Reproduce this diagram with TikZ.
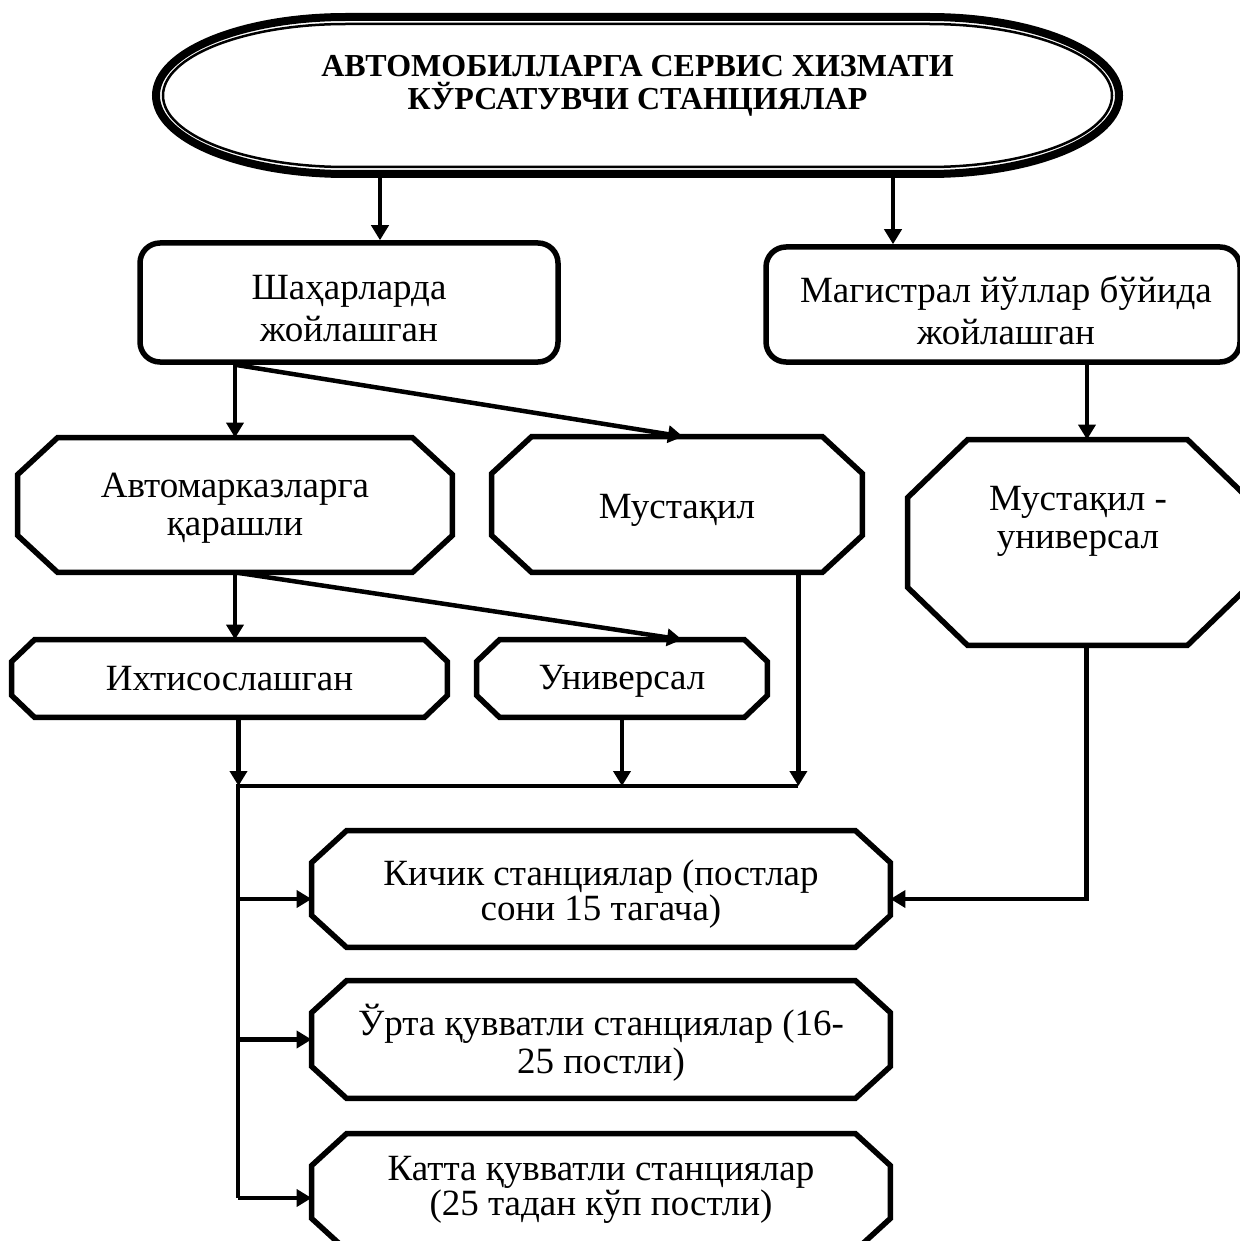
\documentclass[tikz,border=0pt]{standalone}
\usepackage{fontspec}
\setmainfont{Liberation Serif}
\usetikzlibrary{arrows.meta,calc}
\newcommand\octagonbox[6]{%
  \node[shell, minimum width=#3, minimum height=#4] (#1) at #2 {};
  \draw[boxline] ($(#1.north west)+(#5,0)$) -- ($(#1.north east)+(-#5,0)$)
    -- ($(#1.north east)+(0,#6)$) -- ($(#1.south east)+(0,-#6)$)
    -- ($(#1.south east)+(-#5,0)$) -- ($(#1.south west)+(#5,0)$)
    -- ($(#1.south west)+(0,-#6)$) -- ($(#1.north west)+(0,#6)$) -- cycle;
}
\newcommand\txtfont[1]{\fontsize{18.5}{#1}\selectfont\lineskiplimit=-100pt\relax}
\newcommand\ttlfont{\bfseries\fontsize{16}{16.5}\selectfont\lineskiplimit=-100pt\relax}
\begin{document}
\begin{tikzpicture}[x=0.5pt,y=-0.5pt,
  boxline/.style={line width=2.75pt, line join=miter},
  conn/.style={line width=2.25pt},
  arr/.style={conn, -{Triangle[length=7.5pt,width=8.5pt]}},
  txt/.style={align=center, inner sep=0pt},
  shell/.style={draw=none, inner sep=0pt},
  rbox/.style={boxline, draw, rounded corners=10pt, inner sep=0pt}]
\useasboundingbox (0,0) rectangle (1240,1241);
\fill[white] (0,0) rectangle (1240,1241);
\clip (0,0) rectangle (1240,1241);

% title
\node[shell, minimum width=485.5pt, minimum height=82.5pt] (title) at (637.5,95.5) {};
\draw[line width=4pt] (346,17) -- (929,17)
  arc[start angle=90, end angle=-90, x radius=95pt, y radius=39.25pt]
  -- (346,174) arc[start angle=270, end angle=90, x radius=95pt, y radius=39.25pt] -- cycle;
\draw[line width=1.25pt] (346,24) -- (929,24)
  arc[start angle=90, end angle=-90, x radius=91.5pt, y radius=35.75pt]
  -- (346,167) arc[start angle=270, end angle=90, x radius=91.5pt, y radius=35.75pt] -- cycle;
\node[txt, font=\ttlfont] (titlet) at (637.5,86)
  {АВТОМОБИЛЛАРГА СЕРВИС ХИЗМАТИ\\КЎРСАТУВЧИ СТАНЦИЯЛАР};

% second level
\node[rbox, minimum width=209pt, minimum height=59.5pt] (sh) at (349,302.5) {};
\node[rbox, minimum width=237pt, minimum height=57.5pt] (mag) at (1003,304.5) {};
\node[txt, font={\txtfont{21}}] (sht) at (349,309) {Шаҳарларда\\жойлашган};
\node[txt, font={\txtfont{21}}] (magt) at (1006,310.5) {Магистрал йўллар бўйида\\жойлашган};

% octagons
\octagonbox{avt}{(235,505)}{217pt}{67pt}{40}{37}
\octagonbox{must}{(677,504.5)}{185pt}{67.5pt}{40}{37}
\octagonbox{mu}{(1077.5,542.5)}{169.5pt}{102.5pt}{60}{58}
\octagonbox{ih}{(229.5,678.5)}{217.5pt}{38.5pt}{23}{22}
\octagonbox{uni}{(622,678.5)}{145pt}{38.5pt}{23}{22}
\octagonbox{kich}{(601,889)}{289pt}{58pt}{35}{32}
\octagonbox{urta}{(601,1039.5)}{289pt}{58.5pt}{35}{32}
\octagonbox{katta}{(601,1192)}{289pt}{58pt}{35}{32}

\node[txt, font={\txtfont{19}}] (avtt) at (235,508.5) {Автомарказларга\\қарашли};
\node[txt, font={\txtfont{19}}] (mustt) at (677,510.5) {Мустақил};
\node[txt, font={\txtfont{19}}] (mut) at (1078,521) {Мустақил -\\универсал};
\node[txt, font={\txtfont{19}}] (iht) at (229.5,678.5) {Ихтисослашган};
\node[txt, font={\txtfont{19}}] (unit) at (622,681.5) {Универсал};
\node[txt, font={\txtfont{17.5}}] (kicht) at (601,894) {Кичик станциялар (постлар\\сони 15 тагача)};
\node[txt, font={\txtfont{19}}] (urtat) at (601,1043) {Ўрта қувватли станциялар (16-\\25 постли)};
\node[txt, font={\txtfont{17.5}}] (kattat) at (601,1190) {Катта қувватли станциялар\\(25 тадан кўп постли)};

% connectors
\draw[arr] ($(title.south)+(-257.5,0)$) -- ($(sh.north)+(31,0)$);
\draw[arr] ($(title.south)+(255.5,0)$) -- ($(mag.north)+(-110,0)$);
\coordinate (shs) at (sh.south -| avt.north);
\draw[arr] (shs) -- (avt.north);
\draw[arr] (shs) -- ($(must.north)+(6,0)$);
\draw[arr] ($(mag.south)+(84,0)$) -- ($(mu.north)+(9.5,0)$);
\draw[arr] (avt.south) -- (avt.south |- ih.north);
\draw[arr] (avt.south) -- ($(uni.north)+(60,0)$);

\coordinate (busL) at (238,786);
\coordinate (busR) at (798,786);
\coordinate (ihs) at ($(ih.south)+(9,0)$);
\draw[arr] (ihs) -- (ihs |- busL);
\draw[arr] (uni.south) -- (uni.south |- busL);
\coordinate (ms) at ($(must.south east)+(-64,0)$);
\draw[arr] (ms) -- (ms |- busR);
\coordinate (kin) at ($(kich.west)+(0,10)$);
\coordinate (kein) at ($(kich.east)+(0,10)$);
\coordinate (uin) at (urta.west);
\coordinate (kain) at ($(katta.west)+(0,6)$);
\draw[conn] (busR) -- (busL) -- (busL |- kain);
\draw[arr] (busL |- kin) -- (kin);
\draw[arr] (busL |- uin) -- (uin);
\draw[arr] (busL |- kain) -- (kain);
\coordinate (mus) at ($(mu.south)+(9,0)$);
\draw[arr] (mus) -- (mus |- kein) -- (kein);
\end{tikzpicture}
\end{document}
